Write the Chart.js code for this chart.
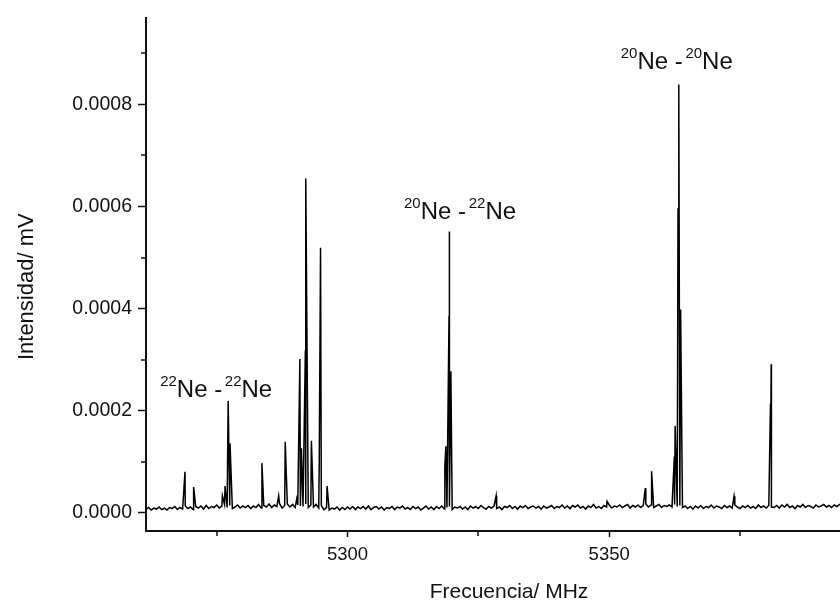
<!DOCTYPE html>
<html>
<head>
<meta charset="utf-8">
<title>Espectro Ne - Ne</title>
<script src="https://cdn.jsdelivr.net/npm/chart.js@4.4.1/dist/chart.umd.min.js"></script>
<style>
  html, body { margin:0; padding:0; background:#fff; }
  #wrap { width:840px; height:607px; }
</style>
</head>
<body>
<div id="wrap"><canvas id="spec" width="840" height="607"></canvas></div>
<script>
/* espectro de Ne2 */
const UNIT = 1e-6; // intensidades en 1e-6 mV

// ruido de fondo, una muestra cada 0.5 MHz desde 5261.5 MHz
const baseStart = 5261.5;
const baseStep = 0.5;
const baseline = [
  6,10,5,9,7,11,6,9,5,10,8,12,6,10,7,13,8,11,6,12,
  9,13,7,14,8,12,10,15,9,13,16,10,14,8,11,15,9,13,10,14,
  8,13,10,16,9,14,11,17,10,15,12,18,9,14,17,11,16,10,15,13,
  12,17,10,15,11,16,9,14,6,10,5,9,7,11,5,10,6,11,7,12,
  6,11,8,12,7,13,6,10,12,7,11,5,10,8,12,6,11,9,13,7,
  10,6,12,8,11,5,9,13,7,11,6,12,8,13,7,10,12,6,11,9,
  12,7,11,6,13,9,12,8,14,10,7,12,9,13,8,11,6,12,10,14,
  8,12,7,13,10,14,8,11,13,9,12,7,13,9,11,14,8,12,10,15,
  9,13,8,14,11,15,9,12,7,13,10,16,9,12,8,14,11,15,9,13,
  11,15,10,13,16,9,14,11,15,10,14,17,11,15,10,13,16,10,14,12,
  15,11,16,12,14,10,13,8,12,7,13,9,14,8,12,10,15,9,13,11,
  8,14,10,13,9,15,11,8,13,10,14,9,12,8,15,10,13,9,14,11,
  10,14,9,15,11,16,10,13,8,14,11,16,10,14,12,9,15,11,13,16,
  11,14,10,15,12,16,13
];

// lineas del espectro (MHz, 1e-6 mV)
const peakFreq = [
  5268.95, 5270.6, 5276.1, 5276.6, 5277.2, 5277.55, 5283.65, 5286.85, 5288.1,
  5290.3, 5290.9, 5291.2, 5291.95, 5292.05, 5293.1, 5294.6, 5294.85, 5296.1,
  5318.6, 5318.8, 5319.4, 5319.45, 5319.75, 5328.4, 5349.6,
  5356.9, 5358.1, 5362.45, 5362.6, 5363.15, 5363.3, 5363.65, 5363.75,
  5373.85, 5380.8, 5380.9, 5380.95
];
const peakHeight = [
  80, 50, 33, 52, 219, 136, 97, 33, 139,
  27, 301, 126, 318, 655, 141, 95, 519, 52,
  91, 130, 386, 551, 277, 33, 22,
  48, 81, 110, 170, 595, 839, 398, 285,
  32, 204, 200, 291
];

const xMin = 5261.5, xMax = 5394.1;
const yMin = -0.000036, yMax = 0.00097;
const xMajor = [5300, 5350];
const xMinor = [5275, 5325, 5375];
const yMajor = [0, 0.0002, 0.0004, 0.0006, 0.0008];
const yMinor = [0.0001, 0.0003, 0.0005, 0.0007, 0.0009];

const xTitle = 'Frecuencia/ MHz';
const yTitle = 'Intensidad/ mV';

// etiquetas de los dimeros (superindice, superindice, MHz, mV)
const isoA = ['22', '20', '20'];
const isoB = ['22', '22', '20'];
const labelFreq = [5264.2, 5310.8, 5352.2];
const labelVal = [0.000227, 0.000576, 0.00087];

const FONT = '"Liberation Sans", Arial, sans-serif';
const INK = '#111';

const points = baseline.map((v, i) => ({x: baseStart + i * baseStep, y: v * UNIT}));
peakFreq.forEach((f, i) => points.push({x: f, y: peakHeight[i] * UNIT}));
points.sort((p, q) => p.x - q.x);

const minorTicks = {
  id: 'minorTicks',
  afterDraw(chart){
    const {ctx, chartArea: a} = chart;
    const x = chart.scales.x, y = chart.scales.y;
    ctx.save();
    ctx.strokeStyle = INK;
    ctx.lineWidth = 1.5;
    ctx.beginPath();
    yMinor.forEach(v => { const py = Math.round(y.getPixelForValue(v)); ctx.moveTo(a.left - 5, py); ctx.lineTo(a.left, py); });
    xMinor.forEach(v => { const px = Math.round(x.getPixelForValue(v)); ctx.moveTo(px, a.bottom); ctx.lineTo(px, a.bottom + 5); });
    ctx.stroke();
    // titulos de los ejes (Origin los centra sobre el eje completo, que sale del recorte)
    ctx.fillStyle = INK;
    ctx.textAlign = 'center';
    ctx.textBaseline = 'middle';
    ctx.font = '21px ' + FONT;
    ctx.fillText(xTitle, a.left + 363, a.bottom + 61);
    ctx.translate(27, a.top + 269);
    ctx.rotate(-Math.PI / 2);
    ctx.font = '22px ' + FONT;
    ctx.fillText(yTitle, 0, 0);
    ctx.restore();
  }
};

const isoLabels = {
  id: 'isoLabels',
  afterDatasetsDraw(chart){
    const ctx = chart.ctx;
    const x = chart.scales.x, y = chart.scales.y;
    ctx.save();
    ctx.fillStyle = INK;
    ctx.textAlign = 'left';
    ctx.textBaseline = 'alphabetic';
    labelFreq.forEach((f, i) => {
      let px = x.getPixelForValue(f);
      const py = y.getPixelForValue(labelVal[i]);
      [[isoA[i], true], ['Ne - ', false], [isoB[i], true], ['Ne', false]].forEach(([t, sup]) => {
        ctx.font = (sup ? '15px ' : '24px ') + FONT;
        ctx.fillText(t, px, sup ? py - 11 : py);
        px += ctx.measureText(t).width - (t === 'Ne - ' ? 4 : 0);
      });
    });
    ctx.restore();
  }
};

new Chart(document.getElementById('spec'), {
  type: 'line',
  data: { datasets: [{ data: points, borderColor: '#000', borderWidth: 1.5, pointRadius: 0, tension: 0, fill: false }] },
  options: {
    responsive: false, animation: false, devicePixelRatio: 1,
    layout: { padding: { top: 13, right: 0, left: 0, bottom: 0 } },
    plugins: { legend: { display: false }, tooltip: { enabled: false } },
    scales: {
      x: {
        type: 'linear', min: xMin, max: xMax,
        afterBuildTicks: s => { s.ticks = xMajor.map(v => ({value: v})); },
        afterFit: s => { s.height = 76; },
        border: { color: INK, width: 2 },
        grid: { drawOnChartArea: false, drawTicks: true, tickLength: 6, tickColor: INK, tickWidth: 1.5 },
        ticks: { color: INK, font: { family: FONT, size: 18.5 }, padding: 7, maxRotation: 0, autoSkip: false, callback: v => String(v) },
        title: { display: false }
      },
      y: {
        min: yMin, max: yMax,
        afterBuildTicks: s => { s.ticks = yMajor.map(v => ({value: v})); },
        afterFit: s => { s.width = 146; },
        border: { color: INK, width: 2 },
        grid: { drawOnChartArea: false, drawTicks: true, tickLength: 8, tickColor: INK, tickWidth: 1.5 },
        ticks: { color: INK, font: { family: FONT, size: 19.5 }, padding: 6, autoSkip: false, callback: v => v.toFixed(4) },
        title: { display: false }
      }
    }
  },
  plugins: [minorTicks, isoLabels]
});
</script>
</body>
</html>
